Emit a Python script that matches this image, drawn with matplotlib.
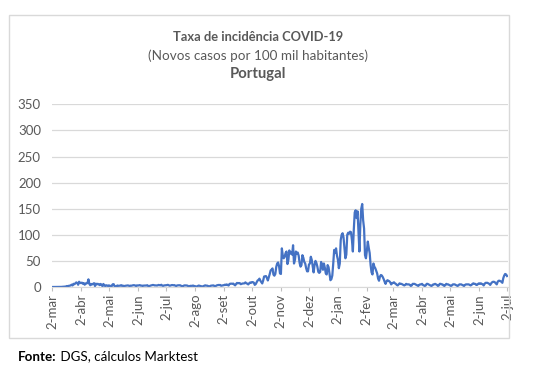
import matplotlib
matplotlib.use("Agg")
import matplotlib.pyplot as plt
import matplotlib.dates as mdates
from matplotlib.patches import Rectangle
import pandas as pd

# novos casos diarios por 100 mil habitantes
mar20 = [0, 0, 0, 0, 0.1, 0.1, 0.1, 0.1, 0.1, 0.2, 0.2, 0.3, 0.6, 0.7, 0.8, 1.1, 1.9, 1.4, 2.3, 2.5,
         3.1, 4.5, 2.9, 6.1, 5.3, 7.0, 8.8, 7.7, 4.3, 10.1]
abr20 = [7.8, 7.6, 8.3, 6.2, 7.3, 4.4, 6.9, 6.8, 7.9, 14.7, 5.8, 3.4, 5.8, 5.0, 6.2, 7.3, 1.8, 6.4, 5.1, 6.1,
         5.0, 3.6, 5.9, 4.3, 1.6, 5.8, 3.0, 1.8, 3.3, 2.8]
mai20 = [1.8, 3.2, 0.9, 2.3, 1.7, 5.2, 5.4, 1.3, 1.6, 1.7, 2.9, 2.2, 2.3, 2.6, 3.5, 2.2, 2.6, 1.5, 2.2, 2.5,
         2.9, 3.0, 2.7, 1.7, 2.6, 2.4, 2.9, 3.4, 3.4, 2.8, 1.9]
jun20 = [3.1, 2.8, 3.3, 3.6, 2.6, 2.7, 1.9, 2.7, 2.8, 2.9, 2.9, 3.4, 2.0, 1.4, 2.5, 2.9, 3.2, 3.9, 3.6, 3.0,
         3.1, 2.9, 3.0, 4.0, 3.5, 3.1, 4.3, 2.6, 2.2, 3.0]
jul20 = [3.2, 3.2, 3.6, 4.2, 3.2, 2.5, 2.9, 3.6, 3.7, 3.3, 3.6, 2.5, 1.9, 2.9, 3.3, 3.2, 3.4, 2.4, 1.8, 1.3,
         2.6, 3.1, 3.1, 2.9, 2.6, 1.4, 0.9, 2.2, 2.3, 2.2, 2.8]
ago20 = [1.9, 1.7, 1.0, 1.0, 2.0, 2.8, 2.2, 1.8, 1.3, 0.9, 1.6, 2.4, 3.2, 2.6, 2.6, 1.8, 1.2, 1.5, 2.5, 2.8,
         2.9, 3.0, 1.6, 1.5, 2.9, 3.3, 3.9, 3.7, 4.0, 2.4, 2.8]
set20 = [3.3, 3.6, 4.4, 3.9, 4.9, 3.8, 2.8, 5.9, 6.3, 6.4, 6.2, 6.5, 4.6, 3.1, 5.7, 7.8, 7.1, 7.6, 7.4, 5.4,
         6.1, 6.7, 6.8, 7.0, 8.9, 7.0, 6.5, 4.9, 7.0, 8.6]
out20 = [8.0, 9.4, 9.3, 8.3, 4.1, 5.5, 8.9, 12.4, 13.5, 16.0, 12.1, 9.3, 6.8, 12.4, 20.1, 20.4, 20.9, 17.4,
         12.5, 18.2, 24.6, 31.7, 33.4, 35.6, 23.8, 21.7, 24.9, 38.4, 45.0, 47.0, 40.0]
nov20 = [26, 25, 74, 60, 55, 58, 65, 68, 44, 52, 70, 64, 66, 62, 80, 45, 52, 68, 64, 66,
         60, 46, 39, 42, 61, 56, 48, 45, 36, 30]
dez20 = [30, 43, 45, 58, 52, 40, 28, 42, 50, 46, 39, 29, 27, 29, 48, 42, 33, 45, 37, 26,
         24, 42, 38, 25, 13, 15, 22, 45, 71, 65, 74]
jan21 = [60, 52, 36, 45, 90, 100, 103, 95, 74, 55, 62, 100, 104, 102, 106, 105, 90, 68, 110, 143,
         147, 132, 145, 105, 68, 120, 150, 159, 128, 112, 61]
fev21 = [55, 70, 87, 75, 65, 42, 28, 24, 45, 39, 36, 31, 26, 16, 12, 20, 23, 22, 19, 15,
         10, 6, 11, 13, 12, 11, 9, 5]
mar21 = [7, 8, 9, 7, 6, 4, 3, 5, 7, 6, 6, 5, 4, 3, 4, 6, 5, 5, 5, 4, 2, 3, 6, 6, 6, 5, 4, 3, 2, 4, 5]
abr21 = [5, 6, 4, 3, 2, 3, 6, 6, 5, 4, 3, 2, 3, 5, 5, 6, 5, 4, 2, 3, 6, 6, 5, 5, 3, 2, 4, 6, 5, 5]
mai21 = [4, 3, 2, 3, 5, 5, 5, 4, 3, 2, 3, 5, 5, 5, 4, 3, 2, 4, 5, 5, 5, 5, 4, 3, 4, 6, 7, 6, 6, 4, 4]
jun21 = [6, 7, 6, 7, 6, 5, 3, 6, 8, 8, 8, 7, 6, 4, 7, 9, 10, 10, 9, 7, 5, 10, 12, 12, 11, 10, 8, 17, 22, 25]
jul21 = [24, 21]

meses = ["jan", "fev", "mar", "abr", "mai", "jun", "jul", "ago", "set", "out", "nov", "dez"]

blocos = [("2020-03-02", mar20), ("2020-04-01", abr20), ("2020-05-01", mai20), ("2020-06-01", jun20),
          ("2020-07-01", jul20), ("2020-08-01", ago20), ("2020-09-01", set20), ("2020-10-01", out20),
          ("2020-11-01", nov20), ("2020-12-01", dez20), ("2021-01-01", jan21), ("2021-02-01", fev21),
          ("2021-03-01", mar21), ("2021-04-01", abr21), ("2021-05-01", mai21), ("2021-06-01", jun21),
          ("2021-07-01", jul21)]

datas = []
valores = []
for inicio, v in blocos:
    datas += list(pd.date_range(inicio, periods=len(v), freq="D"))
    valores += v

cinza = "#595959"
grelha = "#d9d9d9"
plt.rcParams['font.family'] = ['Lato', 'DejaVu Sans']

fig = plt.figure(figsize=(5.4, 3.75), dpi=100)
fig.patches.append(Rectangle((9 / 540, 37 / 375), 500 / 540, 323 / 375, transform=fig.transFigure,
                             fill=False, edgecolor=grelha, lw=1))

ax = fig.add_axes([52 / 540, 88 / 375, 455.5 / 540, 182.7 / 375])
ax.plot(datas, valores, color="#4472C4", lw=1.6)

ax.set_ylim(0, 350)
ax.set_yticks(range(0, 351, 50))
ax.set_xlim(pd.Timestamp("2020-03-02"), pd.Timestamp("2021-07-02 12:00"))
ax.xaxis.set_major_locator(mdates.MonthLocator(bymonthday=2))
ax.xaxis.set_major_formatter(plt.FuncFormatter(
    lambda x, pos: f"{mdates.num2date(x).day}-{meses[mdates.num2date(x).month - 1]}"))

for s in ["top", "right", "left"]:
    ax.spines[s].set_visible(False)
ax.spines["bottom"].set_color(grelha)
ax.grid(axis="y", color=grelha, lw=0.9)
ax.set_axisbelow(True)
ax.tick_params(axis="y", length=0, labelsize=9.5, labelcolor=cinza, pad=8)
ax.tick_params(axis="x", length=3, color="#bfbfbf", labelsize=9.5, labelcolor=cinza, rotation=90, pad=2)

fig.text(0.478, 0.901, "Taxa de incidência COVID-19", ha="center", va="center",
         fontsize=9.3, fontweight="bold", color=cinza)
fig.text(0.478, 0.8525, "(Novos casos por 100 mil habitantes)", ha="center", va="center",
         fontsize=9.7, color=cinza)
fig.text(0.478, 0.8027, "Portugal", ha="center", va="center",
         fontsize=10.7, fontweight="bold", color=cinza)

t1 = fig.text(0.034, 0.049, "Fonte:", ha="left", va="center", fontsize=9.6, fontweight="bold", color="black")
ax.annotate(" DGS, cálculos Marktest", xy=(1, 0.5), xycoords=t1, ha="left", va="center",
            fontsize=9.6, color="black", annotation_clip=False)

fig.savefig("out.png", dpi=100)
